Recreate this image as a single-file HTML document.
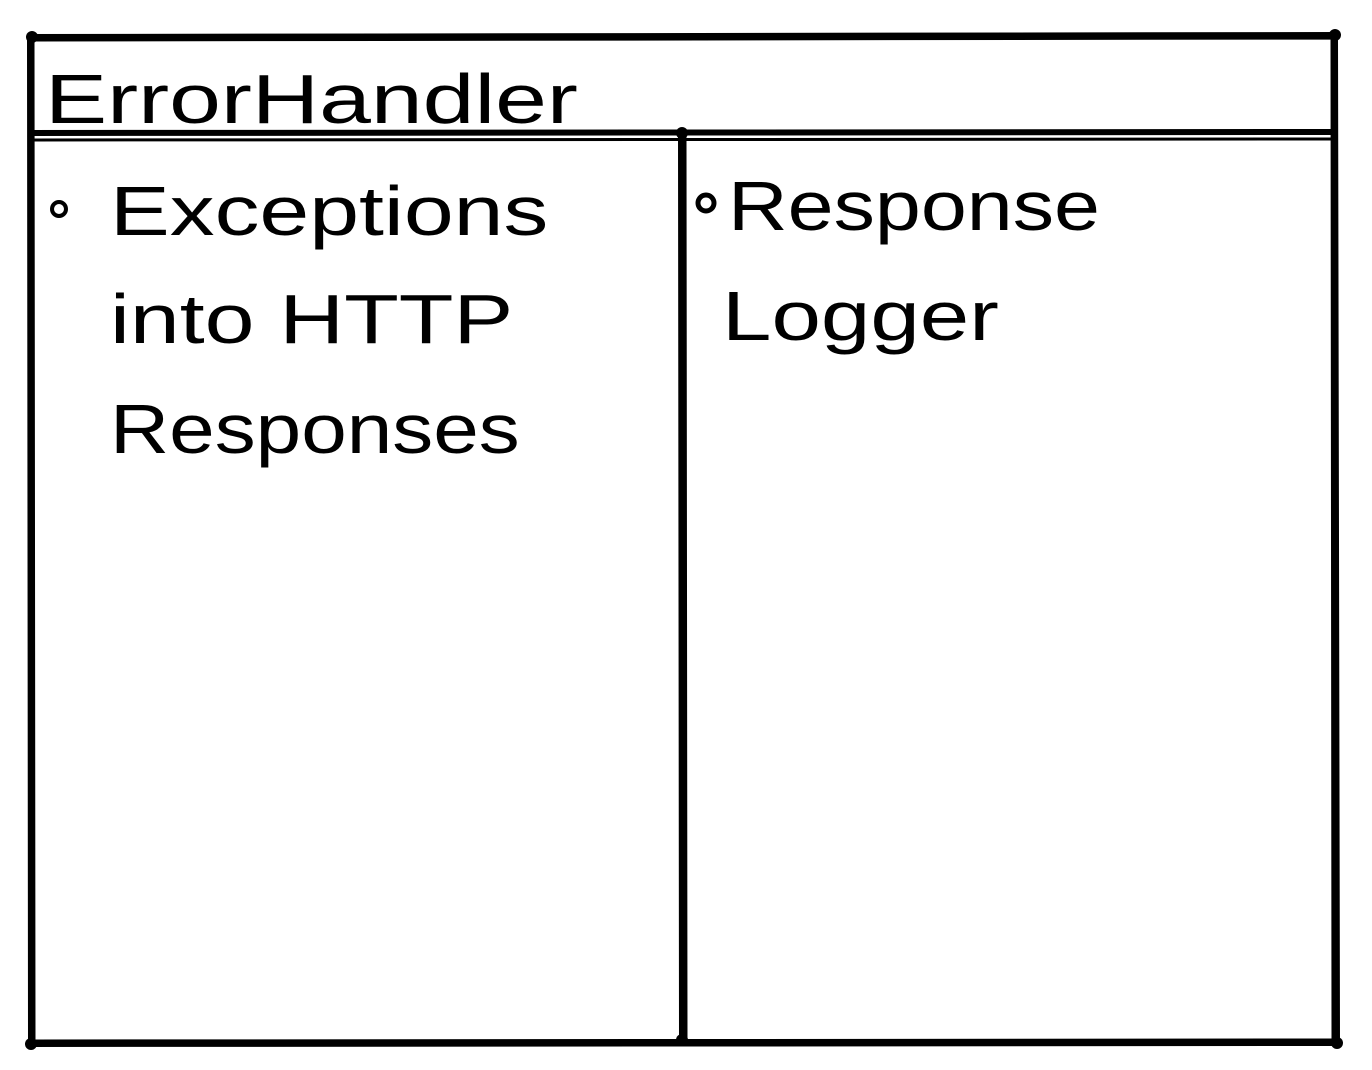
<!DOCTYPE html>
<html><head><meta charset="utf-8"><style>
html,body{margin:0;padding:0;background:#fff;width:1372px;height:1070px;overflow:hidden}
.t{position:absolute;font-family:"Liberation Sans",sans-serif;color:#000;white-space:nowrap;font-size:70px;line-height:1;transform-origin:0 0}
</style></head><body>
<svg width="1372" height="1070" style="position:absolute;left:0;top:0">
<g stroke="#000" stroke-width="6" fill="none" stroke-linecap="round">
<path d="M30 37 L1335 35 L1337 1043 L31 1044 Z"/>
<path d="M33 40 L1332 38 L1333 1040 L34 1041 Z" stroke-width="3"/>
<path d="M32 133 L1335 132"/>
<path d="M32 140 L1333 139" stroke-width="3"/>
<path d="M681 133 L682 1043"/>
<path d="M685 135 L686 1040" stroke-width="3"/>
</g>
<circle cx="32" cy="37" r="6"/><circle cx="1335" cy="35" r="6"/><circle cx="1337" cy="1043" r="6"/><circle cx="31" cy="1044" r="6"/>
<circle cx="682" cy="133" r="6"/><circle cx="682" cy="1040" r="6"/>
<circle cx="59" cy="209" r="7" fill="none" stroke="#000" stroke-width="4"/>
<circle cx="706" cy="203" r="8" fill="none" stroke="#000" stroke-width="5"/>
</svg>
<div class="t" style="left:45px;top:64px;transform:scaleX(1.33)">ErrorHandler</div>
<div class="t" style="left:110px;top:176px;transform:scaleX(1.28)">Exceptions</div>
<div class="t" style="left:110px;top:284px;transform:scaleX(1.28)">into HTTP</div>
<div class="t" style="left:110px;top:394px;transform:scaleX(1.17)">Responses</div>
<div class="t" style="left:728px;top:171px;transform:scaleX(1.18)">Response</div>
<div class="t" style="left:722px;top:281px;transform:scaleX(1.27)">Logger</div>
</body></html>
